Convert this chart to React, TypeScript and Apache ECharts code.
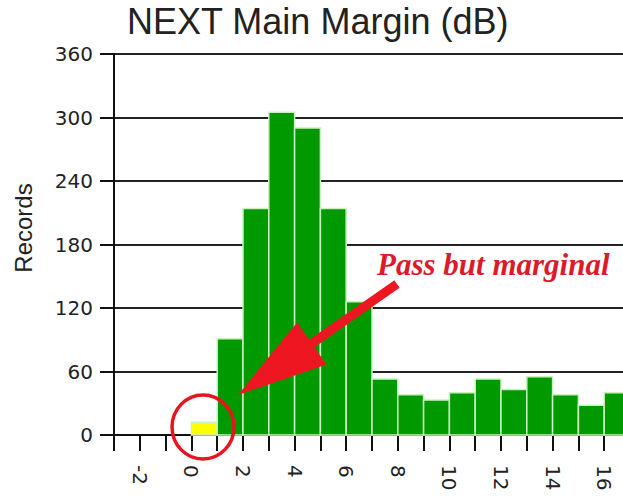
import React, { useEffect, useRef } from "react";
import * as echarts from "echarts";

const titleText = "NEXT Main Margin (dB)";
const yAxisTitle = "Records";
const yTicks = [0, 60, 120, 180, 240, 300, 360];
const xLabelValues = [-2, 0, 2, 4, 6, 8, 10, 12, 14, 16];

// histogram bins: each bar spans [bin, bin + 1]
const failBins = [0];
const failCounts = [12];
const passBins = [1, 2, 3, 4, 5, 6, 7, 8, 9, 10, 11, 12, 13, 14, 15, 16];
const passCounts = [91, 214, 305, 290, 214, 126, 53, 38, 33, 40, 53, 43, 55, 38, 28, 40];
const annotationText = "Pass but marginal";

const barRender = (fill: string) => (params: any, api: any) => {
  const x0 = api.value(0);
  const h = api.value(1);
  const p0 = api.coord([x0, 0]);
  const p1 = api.coord([x0 + 1, h]);
  return {
    type: "rect",
    shape: { x: p0[0], y: p1[1], width: p1[0] - p0[0], height: p0[1] - p1[1] },
    style: { fill, stroke: "#c9f2c0", lineWidth: 1.5 },
  };
};

export default function App() {
  const ref = useRef<HTMLDivElement>(null);
  useEffect(() => {
    if (!ref.current) return;
    const chart = echarts.init(ref.current, undefined, { renderer: "svg" });
    const T = [238, 395];
    const arrowPts = [
      T,
      [326.5, 364.5],
      [314.4, 347.2],
      [399.6, 287.7],
      [394.4, 280.3],
      [309.2, 339.8],
      [297.1, 322.5],
    ];
    chart.setOption({
      animation: false,
      backgroundColor: "#ffffff",
      title: {
        text: titleText,
        left: 127,
        top: 3,
        padding: 0,
        textStyle: {
          fontFamily: "Liberation Sans",
          fontSize: 36,
          fontWeight: "normal",
          color: "#222",
        },
      },
      grid: {
        left: 114,
        top: 54,
        width: 516,
        height: 381,
        outerBoundsMode: "none",
        containLabel: false,
      },
      xAxis: {
        type: "value",
        min: -3,
        max: 17,
        interval: 1,
        axisLine: { show: true, onZero: false, lineStyle: { color: "#111", width: 2 } },
        axisTick: { show: true, length: 16, lineStyle: { color: "#111", width: 2 } },
        splitLine: { show: false },
        axisLabel: {
          rotate: -90,
          margin: 30,
          fontFamily: "DejaVu Sans",
          fontSize: 20,
          color: "#222",
          formatter: (v: number) => (xLabelValues.includes(v) ? String(v) : ""),
        },
      },
      yAxis: {
        type: "value",
        min: 0,
        max: 360,
        interval: 60,
        axisLine: { show: true, onZero: false, lineStyle: { color: "#111", width: 2 } },
        axisTick: { show: true, length: 14, lineStyle: { color: "#111", width: 2 } },
        splitLine: { show: true, lineStyle: { color: "#222", width: 2 } },
        axisLabel: {
          margin: 21,
          fontFamily: "DejaVu Sans",
          fontSize: 20,
          color: "#222",
          formatter: (v: number) => (yTicks.includes(v) ? String(v) : ""),
        },
      },
      series: [
        {
          type: "custom",
          renderItem: barRender("#ffff00"),
          encode: { x: 0, y: 1 },
          data: failBins.map((b, i) => [b, failCounts[i]]),
          z: 3,
        },
        {
          type: "custom",
          renderItem: barRender("#009a00"),
          encode: { x: 0, y: 1 },
          data: passBins.map((b, i) => [b, passCounts[i]]),
          z: 3,
        },
      ],
      graphic: [
        {
          type: "text",
          x: 23,
          y: 228,
          rotation: Math.PI / 2,
          style: {
            text: yAxisTitle,
            fontFamily: "Liberation Sans",
            fontSize: 24,
            fill: "#222",
            align: "center",
            verticalAlign: "middle",
          },
        },
        {
          type: "ellipse",
          shape: { cx: 203, cy: 427, rx: 31, ry: 32 },
          style: { fill: "none", stroke: "#e8141e", lineWidth: 3.5 },
          z: 10,
        },
        {
          type: "polygon",
          shape: { points: arrowPts },
          style: { fill: "#ee1620" },
          z: 10,
        },
        {
          type: "text",
          x: 377,
          y: 264,
          style: {
            text: annotationText,
            fontFamily: "Liberation Serif",
            fontStyle: "italic",
            fontWeight: "bold",
            fontSize: 31,
            fill: "#dc1a2c",
            align: "left",
            verticalAlign: "middle",
          },
          z: 10,
        },
      ],
    });
    return () => chart.dispose();
  }, []);
  return (
    <div
      ref={ref}
      style={{ position: "fixed", left: 0, top: 0, width: 623, height: 499 }}
    />
  );
}
